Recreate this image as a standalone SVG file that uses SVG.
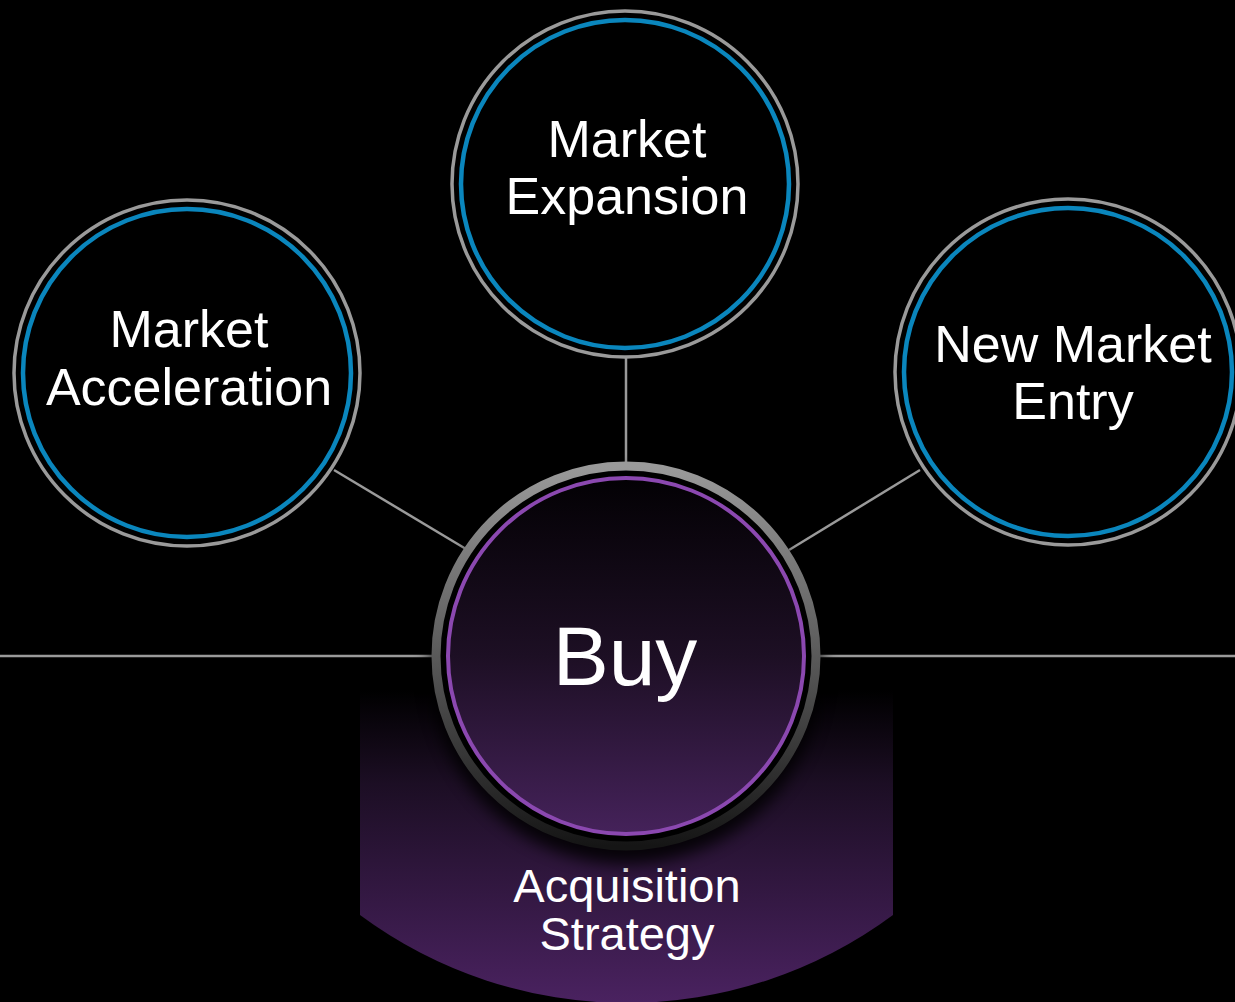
<svg xmlns="http://www.w3.org/2000/svg" width="1235" height="1002" viewBox="0 0 1235 1002">
<defs>
<linearGradient id="tabGrad" x1="0" y1="0" x2="0" y2="1">
<stop offset="0" stop-color="#000000"/>
<stop offset="0.3" stop-color="#1c0e24"/>
<stop offset="1" stop-color="#4a2260"/>
</linearGradient>
<linearGradient id="buyFill" x1="0" y1="0" x2="0" y2="1">
<stop offset="0" stop-color="#030104"/>
<stop offset="0.5" stop-color="#1d0f24"/>
<stop offset="1" stop-color="#45225a"/>
</linearGradient>
<linearGradient id="ringGrad" x1="0" y1="0" x2="0" y2="1">
<stop offset="0" stop-color="#9a9a9a"/>
<stop offset="0.5" stop-color="#5a5a5a"/>
<stop offset="1" stop-color="#151515"/>
</linearGradient>
<filter id="shadow" x="-20%" y="-20%" width="140%" height="140%">
<feGaussianBlur stdDeviation="8"/>
</filter>
</defs>
<style>
.conn{stroke:#9a9a9a;stroke-width:2.5;fill:none}
.outer{fill:#000;stroke:#9a9a9a;stroke-width:3.5}
.inner{fill:none;stroke:#0a86bd;stroke-width:4.5}
.lbl{font-family:"Liberation Sans",Arial,sans-serif;fill:#ffffff;text-anchor:middle}
</style>
<rect width="1235" height="1002" fill="#000"/>
<g id="tab">
<path d="M360,690 L893,690 L893,915 A447.5,447.5 0 0 1 360,915 Z" fill="url(#tabGrad)"/>
<text class="lbl" x="627" y="902" font-size="47">Acquisition</text>
<text class="lbl" x="627" y="950" font-size="47">Strategy</text>
</g>
<g id="connectors">
<line class="conn" x1="0" y1="656" x2="432" y2="656"/>
<line class="conn" x1="820" y1="656" x2="1235" y2="656"/>
<line class="conn" x1="626" y1="358" x2="626" y2="464"/>
<line class="conn" x1="334" y1="470" x2="466" y2="549"/>
<line class="conn" x1="920" y1="470" x2="789" y2="550"/>
</g>
<g id="node-expansion">
<circle class="outer" cx="625" cy="184" r="173"/>
<circle class="inner" cx="625" cy="184" r="164"/>
<text class="lbl" x="627" y="157" font-size="52">Market</text>
<text class="lbl" x="627" y="214" font-size="52">Expansion</text>
</g>
<g id="node-acceleration">
<circle class="outer" cx="187" cy="373" r="173"/>
<circle class="inner" cx="187" cy="373" r="164"/>
<text class="lbl" x="189" y="347" font-size="52">Market</text>
<text class="lbl" x="189" y="405" font-size="52">Acceleration</text>
</g>
<g id="node-entry">
<circle class="outer" cx="1068" cy="372" r="173"/>
<circle class="inner" cx="1068" cy="372" r="164"/>
<text class="lbl" x="1073" y="362" font-size="52">New Market</text>
<text class="lbl" x="1073" y="419" font-size="52">Entry</text>
</g>
<g id="node-buy">
<ellipse cx="626" cy="668" rx="196" ry="196" fill="#000" opacity="0.85" filter="url(#shadow)"/>
<circle cx="626" cy="656" r="190" fill="#000" stroke="url(#ringGrad)" stroke-width="9"/>
<circle cx="626" cy="656" r="178" fill="url(#buyFill)" stroke="#8b48b0" stroke-width="4"/>
<text class="lbl" x="625" y="685" font-size="84">Buy</text>
</g>
</svg>
